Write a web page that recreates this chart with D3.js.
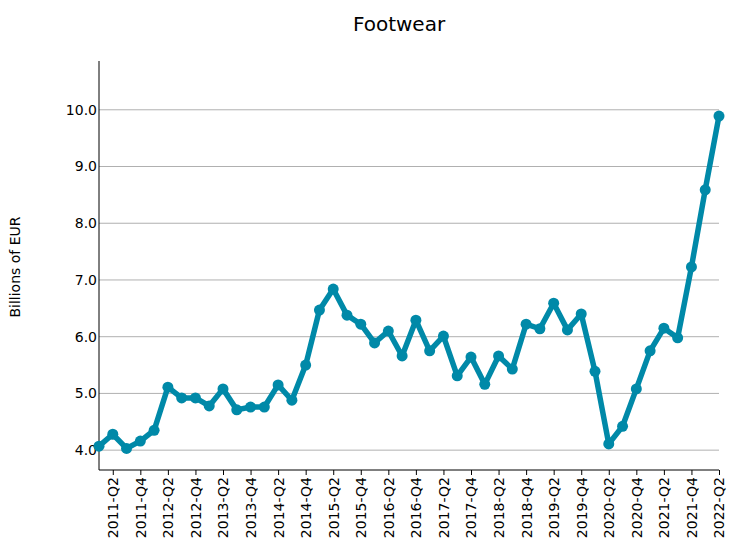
<!DOCTYPE html>
<html><head><meta charset="utf-8">
<script src="https://cdn.jsdelivr.net/npm/d3@7"></script>
<style>body{margin:0;background:#fff;} text{font-family:"DejaVu Sans",sans-serif;}</style>
</head><body><svg id="c" width="750" height="543"></svg>
<script>
const quarters = [];
for (let yr = 2011; yr <= 2022; yr++) for (let q = 1; q <= 4; q++) { if (yr === 2022 && q > 2) break; quarters.push(yr + "-Q" + q); }
const values = [4.07,4.28,4.03,4.16,4.35,5.11,4.92,4.92,4.78,5.08,4.71,4.76,4.76,5.15,4.88,5.50,
  6.47,6.84,6.38,6.22,5.89,6.10,5.66,6.29,5.75,6.01,5.31,5.64,5.16,5.66,5.43,6.22,
  6.14,6.59,6.12,6.40,5.39,4.11,4.42,5.08,5.75,6.15,5.98,7.23,8.59,9.89];
const yTicks = [4,5,6,7,8,9,10];
const xTickLabels = quarters.filter((d,i)=>i%2===1);

const svg = d3.select("#c");
const mLeft = 99, mRight = 719, mTop = 61, mBottom = 470;
const x = d3.scalePoint().domain(quarters).range([mLeft, mRight]);
const y = d3.scaleLinear().domain([3.65, 10.86]).range([mBottom, mTop]);

// grid
svg.append("g").selectAll("line").data(yTicks).join("line")
  .attr("x1", mLeft).attr("x2", mRight).attr("y1", d=>y(d)).attr("y2", d=>y(d))
  .attr("stroke", "#b0b0b0").attr("stroke-width", 1);

// y axis
const ya = svg.append("g").attr("transform", `translate(${mLeft},0)`)
  .call(d3.axisLeft(y).tickValues(yTicks).tickFormat(d3.format(".1f")).tickSize(0).tickPadding(2));
ya.select(".domain").attr("d", `M0,${mTop}V${mBottom}`).attr("stroke", "#000");
ya.selectAll("text").attr("font-size", 14).attr("fill", "#000").style("font-family", "DejaVu Sans");

// x axis
const xa = svg.append("g").attr("transform", `translate(0,${mBottom})`)
  .call(d3.axisBottom(x).tickValues(xTickLabels).tickSize(5).tickPadding(3));
xa.select(".domain").attr("d", `M${mLeft},0H${mRight}`).attr("stroke", "#000");
xa.selectAll("text").attr("font-size", 14).attr("fill", "#000").style("font-family", "DejaVu Sans")
  .attr("transform", "rotate(-90)").attr("text-anchor", "end").attr("x", -7).attr("y", 0).attr("dy", "0.35em");

// line
const color = "#0089a8";
svg.append("path").datum(values)
  .attr("d", d3.line().x((d,i)=>x(quarters[i])).y(d=>y(d)))
  .attr("fill", "none").attr("stroke", color).attr("stroke-width", 5.5).attr("stroke-linejoin", "round");
svg.append("g").selectAll("circle").data(values).join("circle")
  .attr("cx", (d,i)=>x(quarters[i])).attr("cy", d=>y(d)).attr("r", 5.5).attr("fill", color);

// title
svg.append("text").attr("x", 399).attr("y", 31).attr("text-anchor", "middle")
  .attr("font-size", 20).text("Footwear");
svg.append("text").attr("transform", "translate(20,267) rotate(-90)").attr("text-anchor", "middle")
  .attr("font-size", 14).text("Billions of EUR");
</script></body></html>
